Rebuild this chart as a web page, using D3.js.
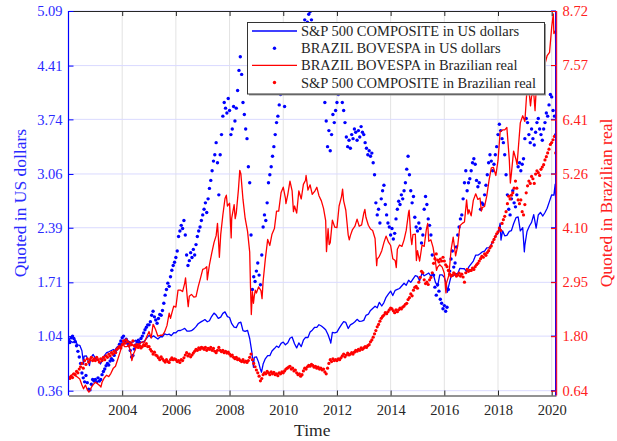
<!DOCTYPE html>
<html><head><meta charset="utf-8">
<script src="https://cdn.jsdelivr.net/npm/d3@7"></script>
<style>body{margin:0;background:#fff} svg{display:block}</style>
</head><body>
<svg id="c" width="617" height="441"></svg>
<script>
// ---------- DATA ----------
const xTickYears = [2004,2006,2008,2010,2012,2014,2016,2018,2020];
const leftTicks  = [0.36,1.04,1.71,2.39,3.06,3.74,4.41,5.09];
const rightTicks = [0.64,1.80,2.95,4.10,5.26,6.41,7.57,8.72];

// S&P 500 in US dollars (left axis) [year, value]
const spUsd = [
[2002.00,1.000],[2002.08,0.979],[2002.17,0.959],[2002.25,0.994],[2002.33,0.932],[2002.42,0.925],[2002.50,0.858],[2002.56,0.690],[2002.58,0.790],[2002.67,0.794],[2002.75,0.706],[2002.78,0.672],[2002.83,0.768],[2002.92,0.811],[2003.00,0.763],
[2003.08,0.742],[2003.14,0.729],[2003.19,0.693],[2003.25,0.735],[2003.33,0.795],[2003.42,0.835],[2003.50,0.845],[2003.58,0.858],[2003.67,0.873],[2003.75,0.863],[2003.83,0.911],[2003.92,0.917],[2004.00,0.964],
[2004.08,0.980],[2004.17,0.992],[2004.25,0.976],[2004.33,0.959],[2004.42,0.971],[2004.50,0.989],[2004.58,0.955],[2004.67,0.957],[2004.75,0.966],[2004.83,0.979],[2004.92,1.017],[2005.00,1.050],
[2005.08,1.023],[2005.17,1.043],[2005.25,1.023],[2005.33,1.003],[2005.42,1.033],[2005.50,1.032],[2005.58,1.069],[2005.67,1.057],[2005.75,1.065],[2005.83,1.046],[2005.92,1.082],[2006.00,1.081],
[2006.08,1.109],[2006.17,1.110],[2006.25,1.122],[2006.33,1.136],[2006.42,1.101],[2006.50,1.101],[2006.58,1.107],[2006.67,1.130],[2006.75,1.158],[2006.83,1.194],[2006.92,1.214],[2007.00,1.229],
[2007.08,1.246],[2007.17,1.219],[2007.25,1.231],[2007.33,1.284],[2007.42,1.327],[2007.50,1.302],[2007.58,1.261],[2007.67,1.277],[2007.75,1.323],[2007.83,1.342],[2007.92,1.283],[2008.00,1.272],
[2008.08,1.195],[2008.17,1.153],[2008.25,1.146],[2008.33,1.201],[2008.42,1.213],[2008.50,1.109],[2008.58,1.098],[2008.67,1.112],[2008.75,1.010],[2008.83,0.840],[2008.89,0.652],[2008.92,0.776],[2009.00,0.782],
[2009.08,0.716],[2009.14,0.637],[2009.19,0.590],[2009.25,0.692],[2009.33,0.757],[2009.42,0.796],[2009.50,0.796],[2009.58,0.855],[2009.67,0.885],[2009.75,0.916],[2009.83,0.898],[2009.92,0.950],[2010.00,0.966],
[2010.08,0.931],[2010.17,0.957],[2010.25,1.013],[2010.33,1.029],[2010.42,0.944],[2010.50,0.893],[2010.58,0.955],[2010.67,0.909],[2010.75,0.989],[2010.83,1.025],[2010.92,1.023],[2011.00,1.090],
[2011.08,1.114],[2011.17,1.150],[2011.25,1.149],[2011.33,1.182],[2011.42,1.166],[2011.50,1.145],[2011.58,1.120],[2011.67,1.056],[2011.75,0.980],[2011.77,0.952],[2011.83,1.086],[2011.92,1.081],[2012.00,1.090],
[2012.08,1.137],[2012.17,1.184],[2012.25,1.220],[2012.33,1.211],[2012.42,1.135],[2012.50,1.180],[2012.58,1.195],[2012.67,1.219],[2012.75,1.249],[2012.83,1.224],[2012.92,1.227],[2013.00,1.236],
[2013.08,1.298],[2013.17,1.313],[2013.25,1.360],[2013.33,1.385],[2013.42,1.413],[2013.50,1.392],[2013.58,1.461],[2013.67,1.415],[2013.75,1.458],[2013.83,1.523],[2013.92,1.565],[2014.00,1.601],
[2014.08,1.545],[2014.17,1.611],[2014.25,1.622],[2014.33,1.633],[2014.42,1.667],[2014.50,1.698],[2014.58,1.673],[2014.67,1.736],[2014.75,1.709],[2014.83,1.749],[2014.92,1.792],[2015.00,1.784],
[2015.08,1.729],[2015.17,1.824],[2015.25,1.792],[2015.33,1.808],[2015.42,1.826],[2015.50,1.788],[2015.58,1.823],[2015.67,1.709],[2015.75,1.664],[2015.83,1.802],[2015.92,1.802],[2016.00,1.771],
[2016.08,1.681],[2016.11,1.585],[2016.17,1.674],[2016.25,1.785],[2016.33,1.789],[2016.42,1.817],[2016.50,1.819],[2016.58,1.884],[2016.67,1.881],[2016.75,1.879],[2016.83,1.842],[2016.92,1.906],[2017.00,1.940],
[2017.08,1.975],[2017.17,2.049],[2017.25,2.048],[2017.33,2.066],[2017.42,2.090],[2017.50,2.100],[2017.58,2.140],[2017.67,2.142],[2017.75,2.183],[2017.83,2.231],[2017.92,2.295],[2018.00,2.317],
[2018.08,2.447],[2018.11,2.237],[2018.17,2.352],[2018.25,2.289],[2018.33,2.295],[2018.42,2.344],[2018.50,2.355],[2018.58,2.440],[2018.67,2.515],[2018.75,2.525],[2018.83,2.350],[2018.92,2.392],[2018.98,2.090],[2019.00,2.172],
[2019.08,2.343],[2019.17,2.412],[2019.25,2.456],[2019.33,2.553],[2019.42,2.385],[2019.50,2.549],[2019.58,2.582],[2019.67,2.536],[2019.75,2.580],[2019.83,2.633],[2019.92,2.722],[2020.00,2.800],
[2020.08,2.795],[2020.13,2.934],[2020.16,2.560]
];

// BOVESPA in Brazilian real (right axis) [year, value]
const bovBrl = [
[2002.00,0.93],[2002.08,0.91],[2002.13,0.98],[2002.17,1.00],[2002.25,0.96],[2002.33,0.93],[2002.42,0.89],[2002.50,0.76],[2002.56,0.68],[2002.63,0.76],[2002.70,0.66],[2002.76,0.61],[2002.80,0.64],[2002.85,0.71],[2002.92,0.77],[2003.00,0.82],
[2003.08,0.79],[2003.17,0.745],[2003.21,0.72],[2003.25,0.82],[2003.33,0.91],[2003.42,0.97],[2003.50,0.94],[2003.58,1.01],[2003.67,1.12],[2003.75,1.16],[2003.83,1.30],[2003.92,1.46],[2004.00,1.61],
[2004.04,1.66],[2004.08,1.58],[2004.17,1.58],[2004.25,1.60],[2004.33,1.42],[2004.36,1.28],[2004.42,1.42],[2004.50,1.53],[2004.58,1.62],[2004.67,1.65],[2004.75,1.68],[2004.83,1.67],[2004.92,1.80],[2005.00,1.90],
[2005.08,1.76],[2005.15,2.05],[2005.17,2.04],[2005.25,1.93],[2005.33,1.80],[2005.42,1.82],[2005.50,1.82],[2005.58,1.89],[2005.67,2.03],[2005.75,2.29],[2005.80,2.18],[2005.83,2.25],[2005.92,2.44],[2006.00,2.42],
[2006.08,2.78],[2006.17,2.78],[2006.25,2.75],[2006.33,2.93],[2006.36,3.04],[2006.42,2.65],[2006.46,2.43],[2006.50,2.65],[2006.58,2.69],[2006.67,2.63],[2006.75,2.64],[2006.83,2.85],[2006.92,3.04],[2007.00,3.22],
[2007.08,3.24],[2007.15,3.28],[2007.17,3.00],[2007.25,3.32],[2007.33,3.55],[2007.42,3.79],[2007.50,3.94],[2007.55,4.20],[2007.58,3.93],[2007.62,3.48],[2007.67,3.96],[2007.75,4.38],[2007.83,4.73],[2007.88,4.80],[2007.92,4.57],[2008.00,4.63],
[2008.06,3.89],[2008.08,4.31],[2008.17,4.60],[2008.21,4.30],[2008.25,4.42],[2008.33,4.92],[2008.38,5.33],[2008.42,5.26],[2008.50,4.71],[2008.58,4.31],[2008.67,4.03],[2008.75,3.59],[2008.78,2.85],[2008.81,2.26],[2008.85,2.75],[2008.89,2.50],[2008.92,2.65],[2008.96,2.78],[2009.00,2.72],
[2009.08,2.85],[2009.17,2.77],[2009.21,2.60],[2009.25,2.97],[2009.33,3.43],[2009.42,3.86],[2009.50,3.73],[2009.58,3.97],[2009.67,4.09],[2009.75,4.46],[2009.83,4.46],[2009.92,4.86],[2010.00,4.97],
[2010.08,4.74],[2010.10,4.62],[2010.17,4.82],[2010.25,5.10],[2010.33,4.89],[2010.38,4.45],[2010.42,4.57],[2010.50,4.42],[2010.58,4.89],[2010.67,4.72],[2010.75,5.03],[2010.83,5.12],[2010.85,5.22],[2010.92,4.91],[2011.00,5.02],
[2011.08,4.82],[2011.17,4.88],[2011.25,4.97],[2011.33,4.79],[2011.42,4.68],[2011.50,4.52],[2011.58,4.26],[2011.61,3.60],[2011.67,4.09],[2011.71,3.75],[2011.75,3.79],[2011.83,4.27],[2011.92,4.12],[2012.00,4.11],
[2012.08,4.57],[2012.17,4.77],[2012.21,4.93],[2012.25,4.68],[2012.33,4.48],[2012.42,3.95],[2012.46,3.85],[2012.50,3.94],[2012.58,4.07],[2012.67,4.14],[2012.75,4.29],[2012.83,4.14],[2012.92,4.17],[2013.00,4.42],
[2013.04,4.50],[2013.08,4.33],[2013.17,4.16],[2013.25,4.08],[2013.33,4.05],[2013.42,3.88],[2013.48,3.30],[2013.50,3.44],[2013.58,3.50],[2013.67,3.62],[2013.75,3.79],[2013.83,3.93],[2013.92,3.80],[2014.00,3.73],
[2014.08,3.45],[2014.17,3.41],[2014.21,3.26],[2014.25,3.65],[2014.33,3.74],[2014.42,3.71],[2014.50,3.85],[2014.58,4.05],[2014.67,4.44],[2014.69,4.48],[2014.75,3.92],[2014.79,3.75],[2014.83,3.96],[2014.92,3.97],[2014.96,3.41],[2015.00,3.62],
[2015.08,3.40],[2015.17,3.74],[2015.25,3.71],[2015.33,4.07],[2015.38,4.20],[2015.42,3.82],[2015.50,3.85],[2015.58,3.69],[2015.67,3.38],[2015.71,3.20],[2015.75,3.27],[2015.83,3.32],[2015.92,3.27],[2016.00,3.14],
[2016.06,2.72],[2016.08,2.93],[2016.17,3.10],[2016.25,3.63],[2016.33,3.91],[2016.42,3.51],[2016.50,3.73],[2016.58,4.15],[2016.67,4.20],[2016.75,4.23],[2016.83,4.70],[2016.88,4.40],[2016.92,4.49],[2017.00,4.36],
[2017.08,4.69],[2017.17,4.83],[2017.25,4.71],[2017.33,4.74],[2017.38,4.46],[2017.42,4.54],[2017.50,4.56],[2017.58,4.78],[2017.67,5.13],[2017.75,5.38],[2017.83,5.39],[2017.92,5.22],[2018.00,5.54],
[2018.08,6.15],[2018.17,6.19],[2018.25,6.19],[2018.33,6.24],[2018.42,5.56],[2018.46,5.06],[2018.50,5.27],[2018.58,5.74],[2018.67,5.56],[2018.71,5.45],[2018.75,5.75],[2018.83,6.34],[2018.92,6.49],[2019.00,6.37],
[2019.08,7.06],[2019.13,7.10],[2019.17,6.93],[2019.21,6.70],[2019.25,6.91],[2019.33,6.98],[2019.38,6.60],[2019.42,7.03],[2019.50,7.32],[2019.58,7.38],[2019.67,7.33],[2019.75,7.59],[2019.83,7.77],[2019.92,7.84],[2020.00,8.38],
[2020.06,8.66],[2020.08,8.24],[2020.12,8.29],[2020.14,8.24],[2020.16,7.55]
];

// scatter series: one value every 0.05 year starting 2002.00
const dotStart = 2002.0, dotStep = 0.05;
// BOVESPA in US dollars (left axis)
const bovUsd = [
1.00,0.96,1.02,1.04,1.01,0.97,0.92,0.85,0.78,0.70,0.58,0.52,0.47,0.55,0.46,0.38,0.37,0.44,0.50,0.48,
0.50,0.47,0.52,0.48,0.50,0.56,0.60,0.63,0.67,0.70,0.68,0.73,0.76,0.74,0.80,0.84,0.88,0.90,0.94,0.98,
1.02,1.04,0.98,1.00,0.95,0.92,0.86,0.78,0.80,0.88,0.93,0.97,0.99,0.96,1.01,1.04,1.08,1.12,1.15,1.18,
1.18,1.22,1.30,1.35,1.28,1.24,1.20,1.26,1.31,1.30,1.36,1.45,1.55,1.62,1.70,1.66,1.78,1.86,1.92,1.96,
2.02,2.10,2.28,2.35,2.42,2.38,2.48,2.30,2.05,1.92,1.98,2.08,2.02,2.12,2.05,2.18,2.28,2.35,2.40,2.48,
2.55,2.62,2.70,2.58,2.75,2.88,2.98,3.10,3.22,3.30,3.45,3.20,2.80,3.30,3.55,3.78,3.95,3.88,3.82,4.00,
3.85,3.55,3.62,3.90,3.72,3.88,4.10,4.35,4.52,4.30,3.95,3.80,3.62,3.50,3.15,2.95,2.30,1.62,1.78,1.72,
1.85,1.95,1.80,1.68,2.05,2.40,2.55,2.48,2.70,2.95,3.05,3.15,3.28,3.40,3.55,3.70,3.78,3.92,4.05,4.10,
4.15,3.90,4.12,4.30,4.45,4.55,4.42,4.15,4.12,4.25,4.40,4.52,4.48,4.62,4.80,4.92,4.98,4.85,4.95,5.05,
5.08,4.98,4.85,4.70,4.75,4.88,4.80,4.65,4.50,4.35,4.20,3.95,3.72,3.40,3.60,3.35,3.55,3.80,3.70,3.85,
3.95,4.05,4.12,4.08,3.95,3.85,3.70,3.52,3.40,3.48,3.38,3.55,3.50,3.62,3.58,3.48,3.60,3.52,3.65,3.58,
3.55,3.45,3.38,3.30,3.35,3.28,3.32,3.20,3.05,2.70,2.55,2.62,2.45,2.75,2.85,2.92,2.68,2.55,2.45,2.40,
2.30,2.38,2.25,2.32,2.50,2.62,2.72,2.68,2.80,2.75,2.85,2.95,3.12,3.28,3.05,2.85,2.70,2.78,2.52,2.40,
2.35,2.45,2.38,2.20,2.30,2.62,2.78,2.68,2.50,2.42,2.30,2.05,1.80,1.65,1.55,1.68,1.60,1.50,1.45,1.38,
1.42,1.35,1.40,1.62,1.85,2.00,2.10,1.90,1.95,2.15,2.30,2.40,2.50,2.55,2.75,2.95,3.10,2.85,2.95,3.00,
3.10,3.20,3.25,3.18,2.98,2.90,2.95,2.62,2.70,2.68,2.80,2.92,3.05,3.20,3.30,3.22,3.10,3.18,3.30,3.40,
3.55,3.68,3.60,3.50,3.45,3.30,3.05,2.80,2.62,2.55,2.75,2.85,2.70,2.65,2.80,3.15,3.20,3.10,3.18,3.25,
3.50,3.75,3.70,3.55,3.45,3.62,3.50,3.42,3.58,3.70,3.75,3.62,3.55,3.48,3.62,3.70,3.82,3.78,3.92,4.05,
4.02,3.85,3.78,3.55
];
// S&P 500 in Brazilian real (right axis)
const spBrl = [
0.93,0.90,0.95,0.92,1.00,0.98,1.05,1.02,1.10,1.15,1.22,1.12,1.28,1.20,1.32,1.25,1.30,1.35,1.28,1.32,
1.28,1.35,1.30,1.25,1.32,1.28,1.35,1.30,1.38,1.35,1.42,1.38,1.45,1.42,1.48,1.45,1.52,1.55,1.58,1.55,
1.62,1.70,1.65,1.72,1.68,1.60,1.66,1.62,1.70,1.60,1.58,1.62,1.56,1.60,1.55,1.58,1.62,1.60,1.64,1.58,
1.58,1.52,1.48,1.42,1.46,1.40,1.38,1.34,1.30,1.36,1.32,1.28,1.25,1.30,1.26,1.24,1.30,1.34,1.30,1.32,
1.30,1.26,1.28,1.24,1.30,1.28,1.34,1.40,1.45,1.38,1.42,1.36,1.40,1.44,1.48,1.52,1.50,1.55,1.52,1.56,
1.55,1.52,1.56,1.50,1.54,1.52,1.56,1.50,1.54,1.48,1.45,1.50,1.56,1.50,1.47,1.50,1.45,1.48,1.44,1.46,
1.42,1.38,1.40,1.35,1.32,1.35,1.30,1.32,1.28,1.26,1.30,1.25,1.27,1.24,1.28,1.35,1.42,1.30,1.22,1.15,
1.08,1.02,0.95,0.85,0.90,0.98,1.02,1.00,1.05,1.02,0.98,1.04,1.00,1.03,0.98,1.00,0.96,1.02,1.00,1.04,
1.02,1.06,1.10,1.12,1.14,1.16,1.10,1.12,1.06,1.08,1.02,0.98,1.00,0.95,0.98,1.06,1.12,1.10,1.15,1.18,
1.16,1.20,1.18,1.14,1.16,1.12,1.14,1.10,1.12,1.08,1.10,1.04,1.00,1.12,1.22,1.30,1.26,1.32,1.28,1.30,
1.28,1.32,1.30,1.34,1.38,1.42,1.36,1.40,1.44,1.40,1.42,1.45,1.42,1.46,1.50,1.48,1.52,1.50,1.55,1.52,
1.55,1.58,1.56,1.60,1.62,1.68,1.72,1.78,1.85,1.92,2.00,2.05,2.12,2.18,2.22,2.25,2.30,2.28,2.32,2.36,
2.40,2.38,2.34,2.30,2.36,2.32,2.36,2.40,2.38,2.42,2.44,2.48,2.50,2.58,2.62,2.70,2.66,2.78,2.84,2.86,
2.82,2.95,3.05,3.18,3.15,3.00,2.92,2.95,2.90,3.00,3.05,3.15,3.35,3.45,3.55,3.42,3.38,3.44,3.40,3.48,
3.40,3.32,3.28,3.20,3.12,3.08,3.10,3.15,3.12,3.08,3.10,3.14,3.08,3.12,3.06,2.95,3.15,3.22,3.18,3.20,
3.20,3.25,3.22,3.28,3.32,3.35,3.40,3.45,3.50,3.48,3.55,3.52,3.58,3.62,3.68,3.72,3.80,3.86,3.92,3.98,
4.02,4.10,4.05,4.20,4.28,4.35,4.45,4.62,4.78,4.72,4.80,4.85,4.95,5.10,4.95,4.70,4.62,4.70,4.45,4.38,
4.60,4.85,5.00,5.10,5.05,5.20,5.15,5.05,5.25,5.32,5.28,5.22,5.35,5.40,5.45,5.55,5.62,5.70,5.78,5.88,
5.92,5.98,6.05,5.70
];

const legendItems = [
  {label:"S&P 500 COMPOSITE in US dollars", color:"#0000ff", type:"line"},
  {label:"BRAZIL BOVESPA in US dollars", color:"#0000ff", type:"dot"},
  {label:"BRAZIL BOVESPA in Brazilian real", color:"#ff0000", type:"line"},
  {label:"S&P 500 COMPOSITE in Brazilian real", color:"#ff0000", type:"dot"}
];

// ---------- LAYOUT ----------
const FONT="'Liberation Serif','DejaVu Serif','Times New Roman',serif";
const L=68.5, R=556, T=11, B=395.5;
const BLUE="#0000ff", RED="#ff0000", AX="#262626";
const blueTxt="#2a2aff", redTxt="#ff2020";
const svg=d3.select("#c").attr("font-family",FONT).style("font-family",FONT);
const x=d3.scaleLinear().domain([2002.0,2020.16]).range([L,R]);
const yL=d3.scaleLinear().domain([0.36,5.09]).range([390.7,11]);
const yR=d3.scaleLinear().domain([0.64,8.72]).range([390.7,11]);

svg.append("defs").append("clipPath").attr("id","clip")
  .append("rect").attr("x",L).attr("y",T).attr("width",R-L).attr("height",B-T);

// grid
const g=svg.append("g");
g.selectAll(".vg").data(xTickYears).join("line")
  .attr("x1",d=>x(d)).attr("x2",d=>x(d)).attr("y1",T).attr("y2",B)
  .attr("stroke","#e3e3e3").attr("stroke-width",1);
g.selectAll(".hg").data(leftTicks).join("line")
  .attr("x1",L).attr("x2",R).attr("y1",d=>yL(d)).attr("y2",d=>yL(d))
  .attr("stroke","#dadaff").attr("stroke-width",1);

// data
const data=svg.append("g").attr("clip-path","url(#clip)");
const lineL=d3.line().x(d=>x(d[0])).y(d=>yL(d[1]));
const lineR=d3.line().x(d=>x(d[0])).y(d=>yR(d[1]));
data.append("path").attr("d",lineL(spUsd)).attr("fill","none").attr("stroke",BLUE).attr("stroke-width",1.3).attr("stroke-linejoin","round");
data.selectAll(".bd").data(bovUsd).join("circle")
  .attr("cx",(d,i)=>x(dotStart+i*dotStep)).attr("cy",d=>yL(d)).attr("r",1.7).attr("fill",BLUE);
data.append("path").attr("d",lineR(bovBrl)).attr("fill","none").attr("stroke",RED).attr("stroke-width",1.3).attr("stroke-linejoin","round");
data.selectAll(".rd").data(spBrl).join("circle")
  .attr("cx",(d,i)=>x(dotStart+i*dotStep)).attr("cy",d=>yR(d)).attr("r",1.6).attr("fill",RED);

// axes
const fs="14.5px";
function styleText(sel,col){ sel.attr("fill",col).attr("font-family",FONT).style("font-family",FONT).style("font-size",fs); }
const axB=svg.append("g").attr("transform",`translate(0,${B})`)
  .call(d3.axisBottom(x).tickValues(xTickYears).tickFormat(d3.format("d")).tickSizeInner(-5).tickSizeOuter(0).tickPadding(9));
axB.attr("font-family",FONT);
axB.select(".domain").attr("stroke",AX);
axB.selectAll(".tick line").attr("stroke",AX);
styleText(axB.selectAll("text"),AX);
const axT=svg.append("g").attr("transform",`translate(0,${T})`)
  .call(d3.axisTop(x).tickValues(xTickYears).tickFormat("").tickSizeInner(-5).tickSizeOuter(0));
axT.select(".domain").attr("stroke",AX);
axT.selectAll(".tick line").attr("stroke",AX);

const axL=svg.append("g").attr("transform",`translate(${L},0)`)
  .call(d3.axisLeft(yL).tickValues(leftTicks).tickFormat(d3.format(".2f")).tickSizeInner(-5).tickSizeOuter(0).tickPadding(6));
axL.attr("font-family",FONT);
axL.select(".domain").remove();
axL.selectAll(".tick line").attr("stroke",BLUE);
styleText(axL.selectAll("text"),blueTxt);
svg.append("line").attr("x1",L).attr("x2",L).attr("y1",T).attr("y2",B).attr("stroke",BLUE).attr("stroke-width",1.2);

// blue ticks on right side (box)
svg.append("g").selectAll("line").data(leftTicks).join("line")
  .attr("x1",R).attr("x2",R-5).attr("y1",d=>yL(d)).attr("y2",d=>yL(d)).attr("stroke",BLUE);
svg.append("line").attr("x1",R-0.5).attr("x2",R-0.5).attr("y1",T).attr("y2",B).attr("stroke",BLUE).attr("stroke-width",1);

const axR=svg.append("g").attr("transform",`translate(${R},0)`)
  .call(d3.axisRight(yR).tickValues(rightTicks).tickFormat(d3.format(".2f")).tickSizeInner(-5).tickSizeOuter(0).tickPadding(6.5));
axR.attr("font-family",FONT);
axR.select(".domain").remove();
axR.selectAll(".tick line").attr("stroke",RED);
styleText(axR.selectAll("text"),redTxt);
svg.append("line").attr("x1",R+0.5).attr("x2",R+0.5).attr("y1",T).attr("y2",B).attr("stroke","#e8103c").attr("stroke-width",1.4);

// axis labels
function label(sel,col){ sel.attr("fill",col).attr("font-family",FONT).style("font-family",FONT).style("font-size","17.5px"); }
label(svg.append("text").attr("x",(L+R)/2).attr("y",430).attr("dy","0.35em").attr("text-anchor","middle").text("Time"),AX);
label(svg.append("text").attr("transform","translate(20,203) rotate(-90)").attr("dy","0.35em").attr("text-anchor","middle").text("Quoted in US dollars"),blueTxt);
label(svg.append("text").attr("transform","translate(606,203) rotate(-90)").attr("dy","0.35em").attr("text-anchor","middle").text("Quoted in Brazilian real"),redTxt);

// legend
const lx=247.5, ly=22.5, lw=297, lh=71.5;
const lg=svg.append("g");
lg.append("rect").attr("x",lx+1.5).attr("y",ly+1.5).attr("width",lw).attr("height",lh).attr("fill","#9a9a9a");
lg.append("rect").attr("x",lx).attr("y",ly).attr("width",lw).attr("height",lh).attr("fill","#fff").attr("stroke","#333").attr("stroke-width",1);
const rowY=[31,48.2,65.3,82.5];
legendItems.forEach((it,i)=>{
  const yy=rowY[i];
  if(it.type==="line"){
    lg.append("line").attr("x1",252).attr("x2",297).attr("y1",yy).attr("y2",yy).attr("stroke",it.color).attr("stroke-width",1.3);
  } else {
    lg.append("circle").attr("cx",274.5).attr("cy",yy).attr("r",1.7).attr("fill",it.color);
  }
  styleText(lg.append("text").attr("x",301).attr("y",yy).attr("dy","0.35em").text(it.label),AX);
});
</script>
</body></html>
